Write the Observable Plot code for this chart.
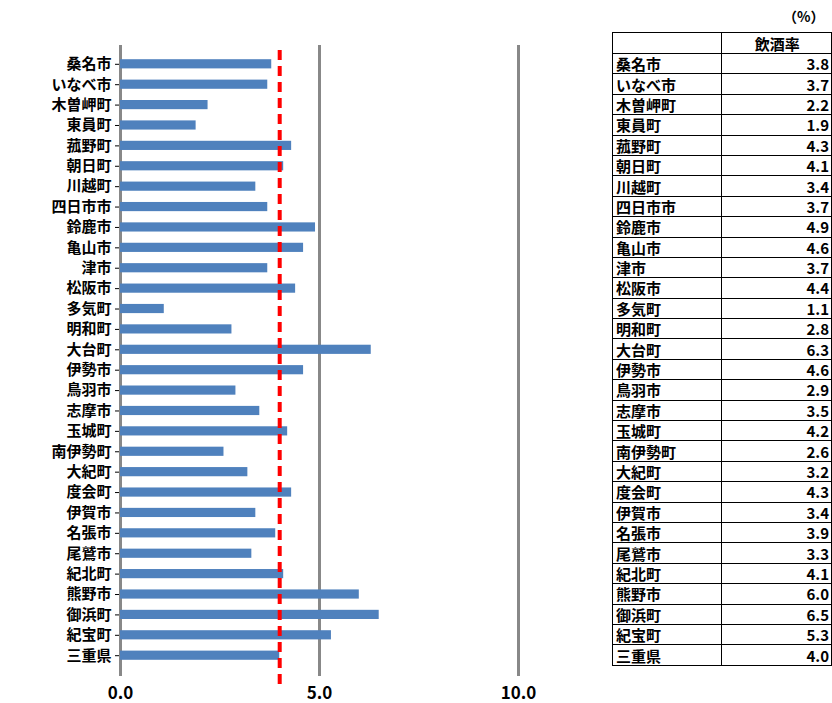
<!DOCTYPE html>
<html><head><meta charset="utf-8">
<script src="https://cdn.jsdelivr.net/npm/d3@7"></script>
<script src="https://cdn.jsdelivr.net/npm/@observablehq/plot@0.6"></script>
<style>
body{margin:0;background:#fff;font-family:"Noto Sans CJK JP",sans-serif;}
#wrap{position:relative;width:832px;height:703px;}
#chart{position:absolute;left:0;top:0;}
#tbl{position:absolute;left:612px;top:32px;border-collapse:collapse;font-size:15px;font-weight:bold;}
#tbl td{border:1.5px solid #000;height:19px;padding:0 3px;line-height:19px;box-sizing:border-box;}
#tbl td.n{width:110px;}
#tbl td.v{width:110px;text-align:right;padding-right:2px;}
#pct{position:absolute;left:783px;top:6px;font-size:14px;font-weight:bold;}
</style></head><body>
<div id="wrap"><div id="chart"></div><div id="pct">（%）</div><table id="tbl"></table></div>
<script>
const towns = ["桑名市","いなべ市","木曽岬町","東員町","菰野町","朝日町","川越町","四日市市","鈴鹿市","亀山市","津市","松阪市","多気町","明和町","大台町","伊勢市","鳥羽市","志摩市","玉城町","南伊勢町","大紀町","度会町","伊賀市","名張市","尾鷲市","紀北町","熊野市","御浜町","紀宝町","三重県"];
const rates = [3.8,3.7,2.2,1.9,4.3,4.1,3.4,3.7,4.9,4.6,3.7,4.4,1.1,2.8,6.3,4.6,2.9,3.5,4.2,2.6,3.2,4.3,3.4,3.9,3.3,4.1,6.0,6.5,5.3,4.0];
const average = 4.0;
const xTicks = [0,5,10];

const data = towns.map((t,i)=>({town:t, rate:rates[i]}));

const chart = Plot.plot({
  width: 560, height: 703,
  marginLeft: 120, marginRight: 42, marginTop: 48, marginBottom: 32,
  style: {fontSize: "15px", fontWeight: "bold", fontFamily: "Noto Sans CJK JP"},
  x: {domain: [0, 10], ticks: xTicks, tickFormat: d3.format(".1f"), label: null, tickSize: 0, tickPadding: 15},
  y: {domain: towns, label: null, padding: 0.55, round: false, tickSize: 5, tickPadding: 4},
  marks: [
    Plot.ruleX(xTicks, {stroke: "#888", strokeWidth: 3, insetTop: -3, insetBottom: -5}),
    Plot.barX(data, {x: "rate", y: "town", fill: "#4f81bd"}),
    Plot.ruleX([average], {stroke: "red", strokeWidth: 4, strokeDasharray: "10,6", insetTop: 2, insetBottom: -19})
  ]
});
chart.querySelectorAll('[aria-label="x-axis tick label"] text').forEach(t => t.style.fontSize = "17px");
document.getElementById("chart").append(chart);

const tbl = document.getElementById("tbl");
let html = '<tr><td class="n" style="height:21px"></td><td class="v" style="text-align:center">飲酒率</td></tr>';
data.forEach(d => { html += `<tr><td class="n" style="height:20.4px">${d.town}</td><td class="v">${d.rate.toFixed(1)}</td></tr>`; });
tbl.innerHTML = html;
</script></body></html>
